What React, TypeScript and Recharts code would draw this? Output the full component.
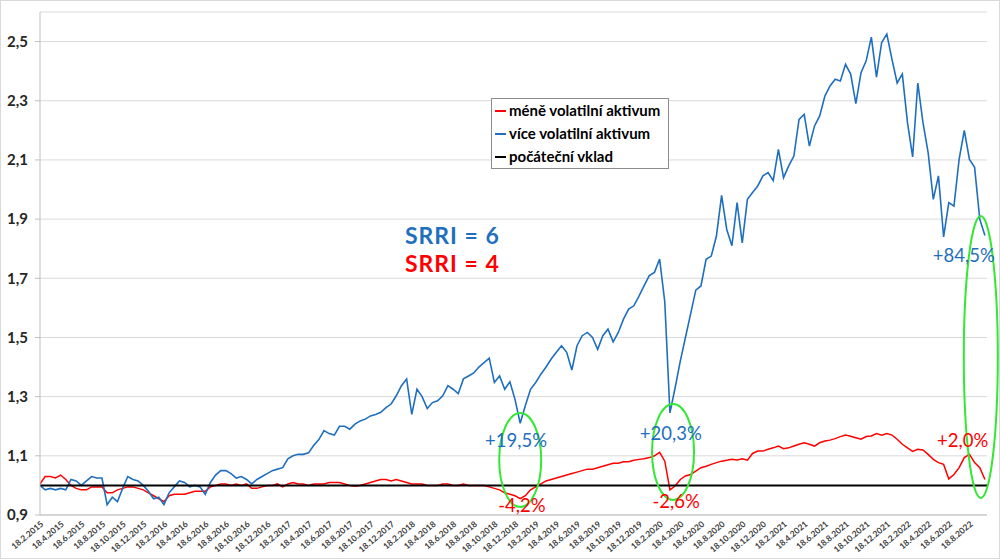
import { LineChart, Line, XAxis, YAxis, CartesianGrid, ReferenceLine, ReferenceDot, Legend } from 'recharts';

const BLUE = '#1f6fc0';
const RED = '#ff0000';
const GREEN = '#33e833';
const FONT = 'Lato, "Open Sans", sans-serif';

// half-month steps from 18.2.2015 (index 0) to early Oct 2022
const moreVolatile = [
  1.0, 0.985, 0.99, 0.985, 0.99, 0.985, 1.02, 1.015, 1.0, 1.015,
  1.03, 1.025, 1.025, 0.935, 0.96, 0.945, 0.99, 1.03, 1.02, 1.015,
  1.0, 0.98, 0.955, 0.96, 0.935, 0.975, 0.995, 1.015, 1.01, 0.995,
  1.0, 0.995, 0.97, 1.01, 1.035, 1.05, 1.05, 1.04, 1.025, 1.03,
  1.02, 1.005, 1.02, 1.03, 1.04, 1.05, 1.055, 1.06, 1.09, 1.1,
  1.105, 1.105, 1.11, 1.135, 1.155, 1.185, 1.175, 1.17, 1.2, 1.2,
  1.19, 1.207, 1.218, 1.224, 1.235, 1.24, 1.247, 1.263, 1.275, 1.303,
  1.337, 1.36, 1.24, 1.325, 1.3, 1.26, 1.28, 1.286, 1.303, 1.337,
  1.325, 1.31, 1.36, 1.37, 1.38, 1.4, 1.415, 1.43, 1.348, 1.37,
  1.325, 1.35, 1.29, 1.21, 1.27, 1.325, 1.348, 1.376, 1.4, 1.427,
  1.45, 1.472, 1.45, 1.39, 1.472, 1.506, 1.517, 1.5, 1.46, 1.506,
  1.528, 1.485, 1.517, 1.562, 1.596, 1.607, 1.64, 1.675, 1.709, 1.72,
  1.765, 1.62, 1.245, 1.33, 1.42, 1.5, 1.58, 1.66, 1.674, 1.764,
  1.775, 1.843, 1.98, 1.865, 1.81, 1.956, 1.82, 1.967, 1.99, 2.012,
  2.046, 2.057, 2.03, 2.136, 2.04, 2.08, 2.113, 2.237, 2.254, 2.147,
  2.215, 2.249, 2.316, 2.35, 2.373, 2.367, 2.423, 2.39, 2.29, 2.395,
  2.435, 2.515, 2.38, 2.497, 2.525, 2.44, 2.36, 2.39, 2.226, 2.11,
  2.36, 2.226, 2.125, 1.967, 2.046, 1.84, 1.956, 1.944, 2.102, 2.2,
  2.102, 2.075, 1.9, 1.845,
];

const lessVolatile = [
  1.005, 1.03, 1.03, 1.025, 1.035, 1.02, 1.0, 0.99, 0.985, 0.985,
  0.995, 0.995, 0.995, 0.975, 0.975, 0.985, 0.99, 0.995, 0.995, 0.99,
  0.985, 0.975, 0.965, 0.955, 0.945, 0.965, 0.97, 0.97, 0.97, 0.975,
  0.98, 0.98, 0.98, 0.995, 1.0, 1.005, 1.005, 1.0, 1.005, 1.0,
  1.005, 0.99, 0.99, 0.995, 1.0, 1.0, 1.005, 0.995, 1.005, 1.01,
  1.005, 1.005, 1.0, 1.005, 1.005, 1.005, 1.01, 1.01, 1.01, 1.005,
  1.0, 0.997, 1.0, 1.005, 1.01, 1.015, 1.02, 1.02, 1.015, 1.02,
  1.015, 1.01, 1.005, 1.005, 1.005, 1.0, 1.0, 1.0, 1.005, 1.005,
  1.0, 1.0, 1.005, 1.0, 1.0, 1.0, 1.0, 0.995, 0.99, 0.985,
  0.975, 0.97, 0.965, 0.955, 0.965, 0.985, 0.995, 1.005, 1.015, 1.02,
  1.025, 1.03, 1.035, 1.04, 1.045, 1.05, 1.055, 1.055, 1.06, 1.065,
  1.07, 1.075, 1.075, 1.08, 1.08, 1.085, 1.088, 1.09, 1.094, 1.1,
  1.112, 1.082, 0.985, 0.998, 1.02, 1.032, 1.037, 1.048, 1.06, 1.065,
  1.071, 1.077, 1.082, 1.085, 1.088, 1.086, 1.09, 1.085, 1.108, 1.116,
  1.116, 1.122, 1.127, 1.133, 1.124, 1.127, 1.133, 1.139, 1.144, 1.139,
  1.133, 1.144, 1.15, 1.153, 1.158, 1.165, 1.17, 1.166, 1.161, 1.156,
  1.165, 1.167, 1.175, 1.17, 1.175, 1.17, 1.156, 1.139, 1.127, 1.115,
  1.122, 1.12, 1.105, 1.088, 1.077, 1.071, 1.022, 1.037, 1.06, 1.094,
  1.105, 1.077, 1.06, 1.02,
];

const startValue = 1;

const xTickLabels = [
  '18.2.2015', '18.4.2015', '18.6.2015', '18.8.2015', '18.10.2015', '18.12.2015',
  '18.2.2016', '18.4.2016', '18.6.2016', '18.8.2016', '18.10.2016', '18.12.2016',
  '18.2.2017', '18.4.2017', '18.6.2017', '18.8.2017', '18.10.2017', '18.12.2017',
  '18.2.2018', '18.4.2018', '18.6.2018', '18.8.2018', '18.10.2018', '18.12.2018',
  '18.2.2019', '18.4.2019', '18.6.2019', '18.8.2019', '18.10.2019', '18.12.2019',
  '18.2.2020', '18.4.2020', '18.6.2020', '18.8.2020', '18.10.2020', '18.12.2020',
  '18.2.2021', '18.4.2021', '18.6.2021', '18.8.2021', '18.10.2021', '18.12.2021',
  '18.2.2022', '18.4.2022', '18.6.2022', '18.8.2022',
];

const yTicks = [0.9, 1.1, 1.3, 1.5, 1.7, 1.9, 2.1, 2.3, 2.5];

const seriesNames = ['méně volatilní aktivum', 'více volatilní aktivum', 'počáteční vklad'];

// month offsets for the tick labels (every second month)
const xTicks = xTickLabels.map((_, i) => i * 2);

const data = moreVolatile.map((v, i) => ({
  t: i / 2,
  more: v,
  less: lessVolatile[i],
}));

const notes = [
  { t: 46.1, v: 1.13, text: '+19,5%', color: BLUE },
  { t: 46.66, v: 0.91, text: '-4,2%', color: RED },
  { t: 61.08, v: 1.154, text: '+20,3%', color: BLUE },
  { t: 61.6, v: 0.924, text: '-2,6%', color: RED },
  { t: 89.35, v: 1.13, text: '+2,0%', color: RED },
  { t: 89.45, v: 1.756, text: '+84,5%', color: BLUE },
];

const headlines = [
  { t: 39.93, v: 1.815, text: 'SRRI = 6', color: BLUE },
  { t: 39.93, v: 1.72, text: 'SRRI = 4', color: RED },
];

const rings = [
  { t: 46.5, v: 1.086, rx: 21, ry: 47 },
  { t: 61.3, v: 1.113, rx: 21, ry: 48 },
  { t: 91.1, v: 1.434, rx: 17, ry: 141 },
];

const XTick = ({ x, y, payload }: any) => {
  const label = xTickLabels[Math.round(payload.value / 2)];
  const px = x + 4;
  const py = y + 10;
  return (
    <text
      x={px}
      y={py}
      transform={`rotate(-40 ${px} ${py})`}
      textAnchor="end"
      fontSize={8.5}
      fontWeight="bold"
      fill="#404040"
      fontFamily={FONT}
    >
      {label}
    </text>
  );
};

const LegendBox = () => {
  const colors = [RED, BLUE, '#000'];
  return (
    <div
      style={{
        border: '1px solid #8c8c8c',
        background: '#fff',
        padding: '0 8px 0 3px',
        fontFamily: FONT,
        fontWeight: 700,
        fontSize: 15,
        lineHeight: '23px',
        color: '#000',
      }}
    >
      {seriesNames.map((name, i) => (
        <div key={name} style={{ display: 'flex', alignItems: 'center' }}>
          <span style={{ display: 'inline-block', width: 11, height: 2, background: colors[i], marginRight: 3 }} />
          {name}
        </div>
      ))}
    </div>
  );
};

export default function App() {
  return (
    <div style={{ position: 'absolute', left: 0, top: 0, width: 1000, height: 559, background: '#fff' }}>
      <LineChart width={1000} height={559} data={data} margin={{ top: 12, right: 13, bottom: 0, left: 0 }}>
        <CartesianGrid vertical={false} stroke="#d9d9d9" />
        <XAxis
          dataKey="t"
          type="number"
          domain={[0, 91.7]}
          ticks={xTicks}
          allowDataOverflow
          height={44}
          stroke="#bfbfbf"
          tickLine={false}
          tickSize={0}
          tickMargin={0}
          tick={<XTick />}
          interval={0}
        />
        <YAxis
          domain={[0.9, 2.6]}
          ticks={yTicks}
          width={40}
          stroke="#bfbfbf"
          tickSize={5}
          tickMargin={7}
          tickFormatter={(v: number) => v.toFixed(1).replace('.', ',')}
          tick={{ fill: '#262626', fontSize: 15, fontWeight: 'bold', fontFamily: FONT }}
          allowDataOverflow
        />
        <Legend
          layout="vertical"
          align="center"
          verticalAlign="middle"
          content={<LegendBox />}
          wrapperStyle={{ left: 491, top: 98, width: 'auto' }}
        />
        <Line dataKey="less" name={seriesNames[0]} stroke={RED} strokeWidth={1.5} dot={false} isAnimationActive={false} />
        <Line dataKey="more" name={seriesNames[1]} stroke={BLUE} strokeWidth={1.6} dot={false} isAnimationActive={false} />
        <ReferenceLine y={startValue} stroke="#000" strokeWidth={2} />
        {rings.map((r, i) => (
          <ReferenceDot
            key={`ring-${i}`}
            x={r.t}
            y={r.v}
            r={1}
            shape={(p: any) => (
              <ellipse cx={p.cx} cy={p.cy} rx={r.rx} ry={r.ry} fill="none" stroke={GREEN} strokeWidth={2} />
            )}
          />
        ))}
        {notes.map((n) => (
          <ReferenceDot
            key={n.text}
            x={n.t}
            y={n.v}
            r={1}
            shape={(p: any) => (
              <text x={p.cx} y={p.cy} textAnchor="middle" fill={n.color} fontSize={18.5} fontFamily={FONT}>
                {n.text}
              </text>
            )}
          />
        ))}
        {headlines.map((h) => (
          <ReferenceDot
            key={h.text}
            x={h.t}
            y={h.v}
            r={1}
            shape={(p: any) => (
              <text
                x={p.cx}
                y={p.cy}
                textAnchor="middle"
                fill={h.color}
                fontSize={23}
                letterSpacing={1}
                fontWeight="bold"
                fontFamily={FONT}
              >
                {h.text}
              </text>
            )}
          />
        ))}
      </LineChart>
      <div
        style={{
          position: 'absolute',
          left: 0,
          top: 0,
          width: 1000,
          height: 559,
          boxSizing: 'border-box',
          border: '1px solid #d9d9d9',
          pointerEvents: 'none',
        }}
      />
    </div>
  );
}
